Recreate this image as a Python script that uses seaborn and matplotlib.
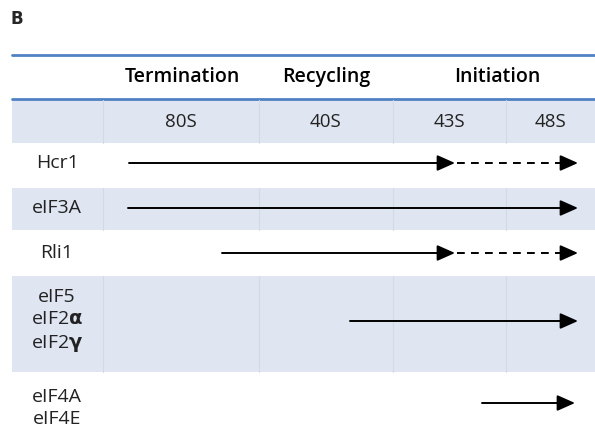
import seaborn as sns
import matplotlib.pyplot as plt

# stage columns (header labels and x extents in page pixels)
phases = ["Termination", "Recycling", "Initiation"]
phase_x = [182, 326, 497]
complexes = ["80S", "40S", "43S", "48S"]
col_edges = [12, 103, 259, 393, 506, 595]

# factor rows
factors = ["Hcr1", "eIF3A", "Rli1", "eIF5\neIF2$\\mathbf{\\alpha}$\neIF2$\\mathbf{\\gamma}$", "eIF4A\neIF4E"]
row_top = [143, 187, 231, 275, 373]
row_bottom = [187, 231, 275, 373, 436]
label_y = [163, 208, 253, 321, 408]
arrow_y = [163, 208, 253, 321, 403]
arrow_start = [129, 128, 222, 350, 482]
solid_end = [455, 578, 455, 578, 575]
dashed_end = [578, None, 578, None, None]
shaded = [False, True, False, True, False]

FILL = "#dfe5f1"
BLUE = "#4f81c4"
GRID = "#d3dae7"

sns.set_theme(style="white")
plt.rcParams["font.family"] = ["Open Sans", "DejaVu Sans"]
plt.rcParams["mathtext.fontset"] = "custom"
plt.rcParams["mathtext.bf"] = "DejaVu Sans:bold"

fig = plt.figure(figsize=(5.95, 4.36), dpi=100)
ax = fig.add_axes([0, 0, 1, 1])
ax.set_xlim(0, 595)
ax.set_ylim(436, 0)
ax.axis("off")

ax.text(10, 19, "B", fontsize=12, fontweight="bold", ha="left", va="center",
        family="DejaVu Sans")

# header
ax.plot([12, 595], [55, 55], color=BLUE, lw=2)
for name, x in zip(phases, phase_x):
    ax.text(x, 77, name, fontsize=14, fontweight="semibold", ha="center", va="center", color="black")
ax.plot([12, 595], [99, 99], color=BLUE, lw=2)

ax.fill_between([12, 595], 100, 143, color=FILL, lw=0)
for i, name in enumerate(complexes):
    xc = (col_edges[i + 1] + col_edges[i + 2]) / 2
    ax.text(xc, 122, name, fontsize=13.5, ha="center", va="center", color="#222222")

# body rows
for i, lab in enumerate(factors):
    if shaded[i]:
        ax.fill_between([12, 595], row_top[i] + 1, row_bottom[i] - 1, color=FILL, lw=0)
    ax.text(57, label_y[i], lab, fontsize=14, ha="center", va="center",
            linespacing=1.3, color="#222222")

# faint column separators on shaded rows
for x in col_edges[1:-1]:
    ax.plot([x, x], [100, 143], color=GRID, lw=0.8)
    for i in range(len(factors)):
        if shaded[i]:
            ax.plot([x, x], [row_top[i] + 1, row_bottom[i] - 1], color=GRID, lw=0.8)

# arrows
for i in range(len(factors)):
    y = arrow_y[i]
    ax.annotate("", xy=(solid_end[i], y), xytext=(arrow_start[i], y),
                arrowprops=dict(arrowstyle="-|>,head_length=0.9,head_width=0.4",
                                color="black", lw=1.4, shrinkA=0, shrinkB=0))
    if dashed_end[i] is not None:
        ax.plot([solid_end[i] + 2, dashed_end[i] - 12], [y, y], color="black", lw=1.4,
                dashes=(4, 3.2))
        ax.annotate("", xy=(dashed_end[i], y), xytext=(dashed_end[i] - 12, y),
                    arrowprops=dict(arrowstyle="-|>,head_length=0.9,head_width=0.4",
                                    color="black", lw=1.4, shrinkA=0, shrinkB=0))

fig.savefig("out.png", dpi=100)
